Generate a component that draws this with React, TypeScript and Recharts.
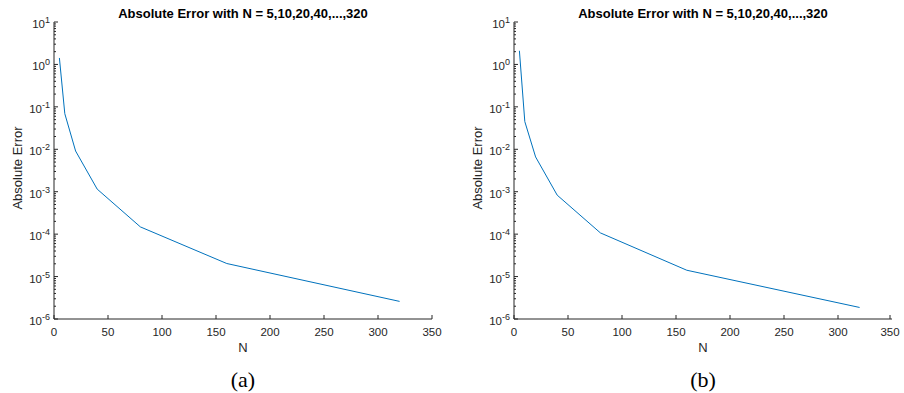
import React from "react";
import { LineChart, Line, XAxis, YAxis } from "recharts";

const nValues = [5, 10, 20, 40, 80, 160, 320];
const errorA = [1.42, 0.069, 0.0091, 0.00115, 0.000148, 0.0000203, 0.0000026];
const errorB = [2.1, 0.045, 0.0066, 0.00083, 0.000107, 0.0000141, 0.00000187];

const xTicks = [0, 50, 100, 150, 200, 250, 300, 350];
const yMajorExps = [-6, -5, -4, -3, -2, -1, 0, 1];
const minorMult = [2, 3, 4, 5, 6, 7, 8, 9];

const yTicks: number[] = [];
yMajorExps.forEach((e) => {
  yTicks.push(Math.pow(10, e));
  if (e < 1) minorMult.forEach((m) => yTicks.push(m * Math.pow(10, e)));
});

const FONT = "'Liberation Sans', Arial, Helvetica, sans-serif";
const AXIS = "#262626";
const LINE = "#0072BD";
const TITLE = "Absolute Error with N = 5,10,20,40,...,320";

function expOf(v: number) {
  const e = Math.log10(v);
  const r = Math.round(e);
  return Math.abs(e - r) < 1e-6 ? r : null;
}

function LeftTick(props: any) {
  const { x, y, payload } = props;
  const exp = expOf(payload.value);
  const major = exp !== null;
  return (
    <g>
      <line x1={x} x2={x + (major ? 4 : 2)} y1={y} y2={y} stroke={AXIS} strokeWidth={1} />
      {major && (
        <text x={x - 4} y={y + 6} textAnchor="end" fontSize={11.5} fill={AXIS} fontFamily={FONT}>
          10
          <tspan dy={-5} fontSize={9}>
            {exp}
          </tspan>
        </text>
      )}
    </g>
  );
}

function RightTick(props: any) {
  const { x, y, payload } = props;
  const major = expOf(payload.value) !== null;
  return <line x1={x} x2={x - (major ? 4 : 2)} y1={y} y2={y} stroke={AXIS} strokeWidth={1} />;
}

function BottomTick(props: any) {
  const { x, y, payload } = props;
  return (
    <g>
      <line x1={x} x2={x} y1={y} y2={y - 4} stroke={AXIS} strokeWidth={1} />
      <text x={x} y={y + 17} textAnchor="middle" fontSize={11.5} fill={AXIS} fontFamily={FONT}>
        {payload.value}
      </text>
    </g>
  );
}

function TopTick(props: any) {
  const { x, y } = props;
  return <line x1={x} x2={x} y1={y} y2={y + 4} stroke={AXIS} strokeWidth={1} />;
}

interface PanelProps {
  values: number[];
  left: number;
  yAxisWidth: number;
  rightMargin: number;
  caption: string;
}

function Panel({ values, left, yAxisWidth, rightMargin, caption }: PanelProps) {
  const data = nValues.map((n, i) => ({ n, err: values[i] }));
  const plotLeft = yAxisWidth;
  const plotRight = 452 - rightMargin;
  const center = (plotLeft + plotRight) / 2;
  return (
    <div style={{ position: "absolute", left, top: 0, width: 452, height: 393 }}>
      <LineChart
        width={452}
        height={393}
        data={data}
        margin={{ top: 22, right: rightMargin, bottom: 34, left: 0 }}
      >
        <XAxis
          xAxisId="b"
          type="number"
          dataKey="n"
          domain={[0, 350]}
          ticks={xTicks}
          height={40}
          tickSize={0}
          tickMargin={0}
          tick={<BottomTick />}
          tickLine={false}
          axisLine={{ stroke: AXIS, strokeWidth: 1 }}
          allowDataOverflow
          label={{
            value: "N",
            position: "insideBottom",
            offset: 7,
            style: { fill: AXIS, fontSize: 13, fontFamily: FONT },
          }}
        />
        <XAxis
          xAxisId="t"
          orientation="top"
          type="number"
          dataKey="n"
          domain={[0, 350]}
          ticks={xTicks}
          height={0}
          tickSize={0}
          tickMargin={0}
          tick={<TopTick />}
          tickLine={false}
          axisLine={{ stroke: AXIS, strokeWidth: 1 }}
          allowDataOverflow
        />
        <YAxis
          yAxisId="l"
          scale="log"
          domain={[1e-6, 10]}
          ticks={yTicks}
          width={yAxisWidth}
          tickSize={0}
          tickMargin={0}
          tick={<LeftTick />}
          tickLine={false}
          interval={0}
          axisLine={{ stroke: AXIS, strokeWidth: 1 }}
          allowDataOverflow
        />
        <YAxis
          yAxisId="r"
          orientation="right"
          scale="log"
          domain={[1e-6, 10]}
          ticks={yTicks}
          width={0}
          tickSize={0}
          tickMargin={0}
          tick={<RightTick />}
          tickLine={false}
          interval={0}
          axisLine={{ stroke: AXIS, strokeWidth: 1 }}
          allowDataOverflow
        />
        <Line
          xAxisId="b"
          yAxisId="l"
          type="linear"
          dataKey="err"
          stroke={LINE}
          strokeWidth={1}
          dot={false}
          isAnimationActive={false}
        />
      </LineChart>
      <div
        style={{
          position: "absolute",
          left: center - 200,
          width: 400,
          top: 6,
          textAlign: "center",
          fontFamily: FONT,
          fontWeight: "bold",
          fontSize: 13,
          color: "#000",
          lineHeight: "16px",
        }}
      >
        {TITLE}
      </div>
      <div
        style={{
          position: "absolute",
          left: yAxisWidth - 37,
          top: 168,
          width: 0,
          height: 0,
        }}
      >
        <div
          style={{
            position: "absolute",
            transform: "translate(-50%, -50%) rotate(-90deg)",
            whiteSpace: "nowrap",
            fontFamily: FONT,
            fontSize: 13,
            color: AXIS,
          }}
        >
          Absolute Error
        </div>
      </div>
      <div
        style={{
          position: "absolute",
          left: center - 60,
          width: 120,
          top: 366,
          textAlign: "center",
          fontFamily: "'Liberation Serif', 'DejaVu Serif', serif",
          fontSize: 22,
          lineHeight: "28px",
          color: "#000",
        }}
      >
        {caption}
      </div>
    </div>
  );
}

export default function App() {
  return (
    <div
      style={{
        position: "absolute",
        left: 0,
        top: 0,
        width: 904,
        height: 393,
        background: "#fff",
        overflow: "hidden",
      }}
    >
      <Panel values={errorA} left={0} yAxisWidth={54} rightMargin={20} caption="(a)" />
      <Panel values={errorB} left={450} yAxisWidth={64} rightMargin={10} caption="(b)" />
    </div>
  );
}
